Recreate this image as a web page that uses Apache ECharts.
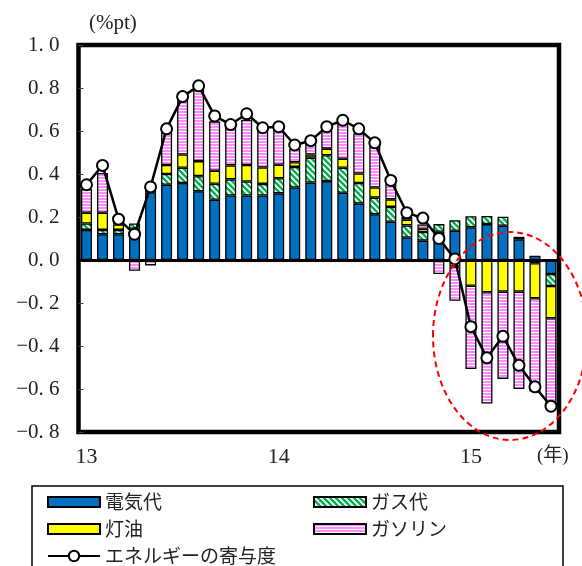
<!DOCTYPE html>
<html>
<head>
<meta charset="utf-8">
<script src="https://cdn.jsdelivr.net/npm/echarts@6/dist/echarts.min.js"></script>
<style>
  html, body { margin: 0; padding: 0; background: #fff; }
  #chart { width: 582px; height: 566px; }
</style>
</head>
<body>
<div id="chart"></div>
<script>
// Monthly categories, Jan 2013 – Jun 2015
const categories = [
  '13/1','13/2','13/3','13/4','13/5','13/6','13/7','13/8','13/9','13/10','13/11','13/12',
  '14/1','14/2','14/3','14/4','14/5','14/6','14/7','14/8','14/9','14/10','14/11','14/12',
  '15/1','15/2','15/3','15/4','15/5','15/6'
];
// Year labels shown under the January of each year
const yearLabels = { '13/1': '13', '14/1': '14', '15/1': '15' };

// Contribution by component (%pt)
const electricity = [0.14, 0.12, 0.12, 0.145, 0.315, 0.35, 0.358, 0.32, 0.28, 0.30, 0.30, 0.30,
                     0.31, 0.337, 0.36, 0.367, 0.313, 0.262, 0.213, 0.178, 0.105, 0.09, 0.131, 0.136,
                     0.152, 0.167, 0.159, 0.096, 0.02, -0.065];
const gas =         [0.03, 0.02, 0.02, 0.025, 0.012, 0.05, 0.071, 0.07, 0.075, 0.075, 0.065, 0.054,
                     0.07, 0.096, 0.116, 0.12, 0.116, 0.096, 0.077, 0.069, 0.056, 0.04, 0.036, 0.049,
                     0.052, 0.038, 0.042, 0.012, -0.015, -0.056];
const kerosene =    [0.05, 0.08, 0.025, '-', '-', 0.042, 0.062, 0.07, 0.06, 0.065, 0.077, 0.076,
                     0.063, 0.022, 0.015, 0.031, 0.042, 0.044, 0.047, 0.035, 0.027, 0.015, '-', -0.03,
                     -0.12, -0.15, -0.147, -0.147, -0.163, -0.15];
const gasoline =    [0.11, 0.185, 0.02, -0.05, -0.025, 0.16, 0.28, 0.337, 0.23, 0.178, 0.21, 0.175,
                     0.17, 0.063, 0.05, 0.085, 0.163, 0.188, 0.196, 0.073, 0.012, 0.02, -0.065, -0.16,
                     -0.387, -0.518, -0.406, -0.453, -0.434, -0.41];
// Total energy contribution
const energy =      [0.35, 0.44, 0.19, 0.12, 0.34, 0.61, 0.76, 0.81, 0.67, 0.63, 0.68, 0.615,
                     0.62, 0.535, 0.555, 0.62, 0.65, 0.61, 0.545, 0.37, 0.22, 0.195, 0.10, 0.005,
                     -0.31, -0.455, -0.355, -0.49, -0.59, -0.68];

// Fill patterns
function makeHatch() {
  const c = document.createElement('canvas');
  c.width = 6; c.height = 6;
  const g = c.getContext('2d');
  g.fillStyle = '#00B050';
  g.fillRect(0, 0, 6, 6);
  g.strokeStyle = '#ffffff';
  g.lineWidth = 1.8;
  for (const k of [-6, 0, 6]) {
    g.beginPath();
    g.moveTo(k - 1, -1);
    g.lineTo(k + 7, 7);
    g.stroke();
  }
  return c;
}
function makeHStripes() {
  const c = document.createElement('canvas');
  c.width = 4; c.height = 3;
  const g = c.getContext('2d');
  g.fillStyle = '#FF8CFF';
  g.fillRect(0, 0, 4, 3);
  g.fillStyle = '#ffffff';
  g.fillRect(0, 2, 4, 1);
  return c;
}
const hatchFill = { image: makeHatch(), repeat: 'repeat' };
const stripeFill = { image: makeHStripes(), repeat: 'repeat' };

const serif = "'Liberation Serif', 'DejaVu Serif', serif";
const jpSans = "'Noto Sans CJK JP', sans-serif";

function barSeries(name, data, fill, extra) {
  return Object.assign({
    name: name,
    type: 'bar',
    stack: 'energy',
    data: data,
    barWidth: 11,
    itemStyle: { color: fill, borderColor: '#000', borderWidth: 1.3 },
    emphasis: { disabled: true }
  }, extra || {});
}

function legendItem(name, left, top, opts) {
  return Object.assign({
    data: [name],
    left: left,
    top: top,
    orient: 'vertical',
    padding: 0,
    itemWidth: 52,
    itemHeight: 10,
    icon: 'rect',
    selectedMode: false,
    textStyle: { fontFamily: jpSans, fontSize: 19, color: '#222', lineHeight: 22 }
  }, opts || {});
}

const chart = echarts.init(document.getElementById('chart'), null, { renderer: 'canvas' });
chart.setOption({
  animation: false,
  backgroundColor: '#fff',
  grid: {
    left: 78.5, right: 23, top: 45, bottom: 134,
    show: true, borderColor: '#000', borderWidth: 4.5, backgroundColor: 'transparent'
  },
  xAxis: {
    type: 'category',
    data: categories,
    boundaryGap: true,
    axisLine: { show: false, onZero: false },
    axisTick: { show: false },
    splitLine: { show: false },
    axisLabel: {
      interval: 0,
      margin: 14,
      fontFamily: serif,
      fontSize: 22,
      color: '#222',
      formatter: function (v) { return yearLabels[v] || ''; }
    }
  },
  yAxis: {
    type: 'value',
    min: -0.8, max: 1.0, interval: 0.2,
    axisLine: { show: false },
    splitLine: { show: false },
    axisTick: { show: true, inside: true, length: 5, lineStyle: { color: '#444', width: 1 } },
    axisLabel: {
      margin: 19,
      fontFamily: serif,
      fontSize: 21,
      color: '#222',
      formatter: function (v) {
        const s = Math.abs(v).toFixed(1).replace('.', '. ');
        return (v < -1e-9 ? '\u2212' : '') + s;
      }
    }
  },
  legend: [
    legendItem('電気代', 47, 491),
    legendItem('灯油', 47, 518),
    legendItem('ガス代', 313, 491),
    legendItem('ガソリン', 313, 518),
    legendItem('エネルギーの寄与度', 47, 545, { icon: null, itemHeight: 13 })
  ],
  series: [
    barSeries('電気代', electricity, '#0070C0'),
    barSeries('ガス代', gas, hatchFill),
    barSeries('灯油', kerosene, '#FFFF00'),
    barSeries('ガソリン', gasoline, stripeFill, {
      markLine: {
        silent: true,
        symbol: ['none', 'none'],
        label: { show: false },
        lineStyle: { color: '#000', width: 3, type: 'solid' },
        emphasis: { disabled: true },
        data: [{ yAxis: 0 }]
      }
    }),
    {
      name: 'エネルギーの寄与度',
      type: 'line',
      data: energy,
      z: 6,
      symbol: 'circle',
      symbolSize: 11,
      lineStyle: { color: '#000', width: 2.5 },
      itemStyle: { color: '#fff', borderColor: '#000', borderWidth: 2 },
      emphasis: { disabled: true }
    }
  ],
  graphic: [
    { type: 'text', left: 89, top: 13, style: { text: '(%pt)', font: '21px ' + serif, fill: '#222' } },
    { type: 'text', left: 537, top: 447, style: { text: '(年)', font: '19px ' + serif + ", 'Noto Sans CJK JP'", fill: '#222' } },
    { type: 'rect', z: 0, shape: { x: 32, y: 486, width: 531, height: 100 },
      style: { fill: 'none', stroke: '#000', lineWidth: 1.5 } },
    { type: 'ellipse', z: 100, shape: { cx: 510, cy: 336, rx: 77, ry: 104 },
      style: { fill: 'none', stroke: '#FF0000', lineWidth: 2, lineDash: [6, 4] } }
  ]
});
</script>
</body>
</html>
